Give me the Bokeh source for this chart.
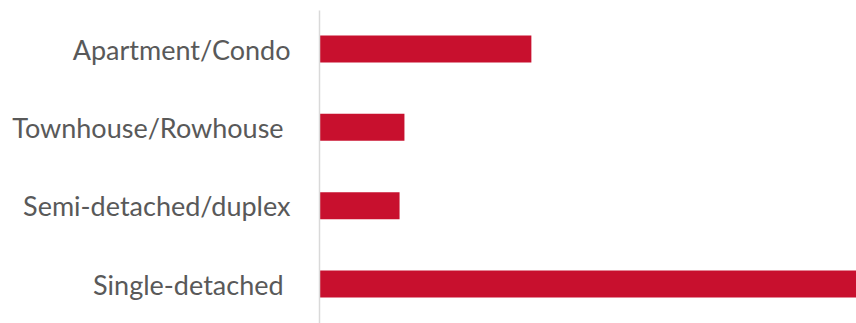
from bokeh.plotting import figure
from bokeh.models import Range1d, FixedTicker
from bokeh.embed import file_html
from bokeh.resources import INLINE

categories = ["Apartment/Condo", "Townhouse/Rowhouse\u00a0", "Semi-detached/duplex", "Single-detached\u00a0"]
values = [21.7, 8.7, 8.2, 55.0]

n = len(categories)
ypos = [n - 1 - i for i in range(n)]

p = figure(width=856, height=323, output_backend="svg", toolbar_location=None,
           x_range=Range1d(0, 55.0), y_range=Range1d(-0.504, 3.4915),
           min_border_left=319, min_border_right=0, min_border_top=10, min_border_bottom=0)

p.hbar(y=ypos, right=values, left=0, height=0.345, color="#C8102E", line_color=None)

p.xaxis.visible = False
p.xgrid.visible = False
p.ygrid.visible = False
p.outline_line_color = None

ya = p.yaxis[0]
ya.ticker = FixedTicker(ticks=ypos)
ya.major_label_overrides = {y: c for y, c in zip(ypos, categories)}
ya.axis_line_color = "#d9d9d9"
ya.axis_line_width = 1.5
ya.major_tick_line_color = None
ya.minor_tick_line_color = None
ya.major_label_standoff = 23
ya.major_label_text_font = "Lato"
ya.major_label_text_font_size = "27px"
ya.major_label_text_color = "#595959"

open("out.html", "w").write(file_html(p, INLINE))
